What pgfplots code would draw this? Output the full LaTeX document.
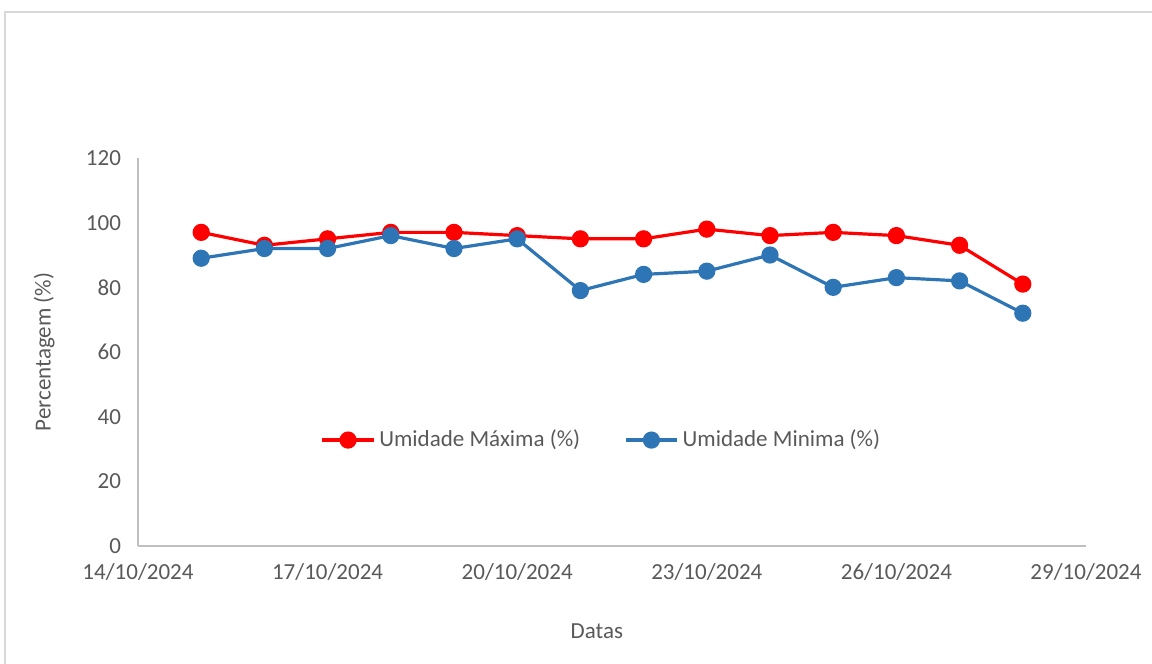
\documentclass[border=0pt]{standalone}
\usepackage{pgfplots}
\pgfplotsset{compat=1.18}
\usepackage{fontspec}
\setmainfont{Carlito}
\definecolor{txt}{HTML}{595959}
\definecolor{axl}{HTML}{BFBFBF}
\definecolor{fr}{HTML}{D9D9D9}
\definecolor{myred}{HTML}{FF0000}
\definecolor{myblue}{HTML}{2E75B6}
\begin{document}
\begin{tikzpicture}
\useasboundingbox (0,0) rectangle (576pt,332pt);
\draw[fr, line width=1pt] (2.25pt,0) -- (2.25pt,326pt) -- (576pt,326pt);
\begin{axis}[
  at={(69pt,59pt)}, anchor=south west,
  scale only axis, width=474pt, height=194pt,
  xmin=14, xmax=29, ymin=0, ymax=120,
  xtick={14,17,20,23,26,29},
  xticklabels={14/10/2024,17/10/2024,20/10/2024,23/10/2024,26/10/2024,29/10/2024},
  ytick={0,20,...,120},
  axis lines=left, axis line style={axl, line width=0.6pt, -},
  major tick length=0pt,
  tick label style={font=\fontsize{11.5pt}{13pt}\selectfont, text=txt},
  /pgf/number format/assume math mode=true,
  xticklabel style={yshift=-5pt},
  yticklabel style={xshift=-5pt},
  label style={font=\fontsize{11.5pt}{13pt}\selectfont, text=txt},
  xlabel={Datas},
  ylabel={Percentagem (\%)},
  xlabel style={at={(axis description cs:0.484,-0.219)}, anchor=center},
  ylabel style={at={(axis description cs:-0.099,0.5)}, anchor=center, rotate=0},
  legend style={at={(axis description cs:0.49,0.273)}, anchor=center, draw=none, fill=none,
    legend columns=2, font=\fontsize{11.5pt}{13pt}\selectfont, text=txt,
    /tikz/every even column/.append style={column sep=20pt}},
  legend image code/.code={
    \draw[#1, mark=none] (0cm,0cm) -- (0.9cm,0cm);
    \draw[#1, only marks] plot coordinates {(0.45cm,0cm)};
  },
  clip=false,
]
\addplot[myred, line width=1.6pt, mark=*, mark size=3.5pt, mark options={solid, fill=myred, draw=myred}]
  coordinates {(15,97)(16,93)(17,95)(18,97)(19,97)(20,96)(21,95)(22,95)(23,98)(24,96)(25,97)(26,96)(27,93)(28,81)};
\addlegendentry{Umidade Máxima (\%)}
\addplot[myblue, line width=1.6pt, mark=*, mark size=3.5pt, mark options={solid, fill=myblue, draw=myblue}]
  coordinates {(15,89)(16,92)(17,92)(18,96)(19,92)(20,95)(21,79)(22,84)(23,85)(24,90)(25,80)(26,83)(27,82)(28,72)};
\addlegendentry{Umidade Minima (\%)}
\end{axis}
\end{tikzpicture}
\end{document}
